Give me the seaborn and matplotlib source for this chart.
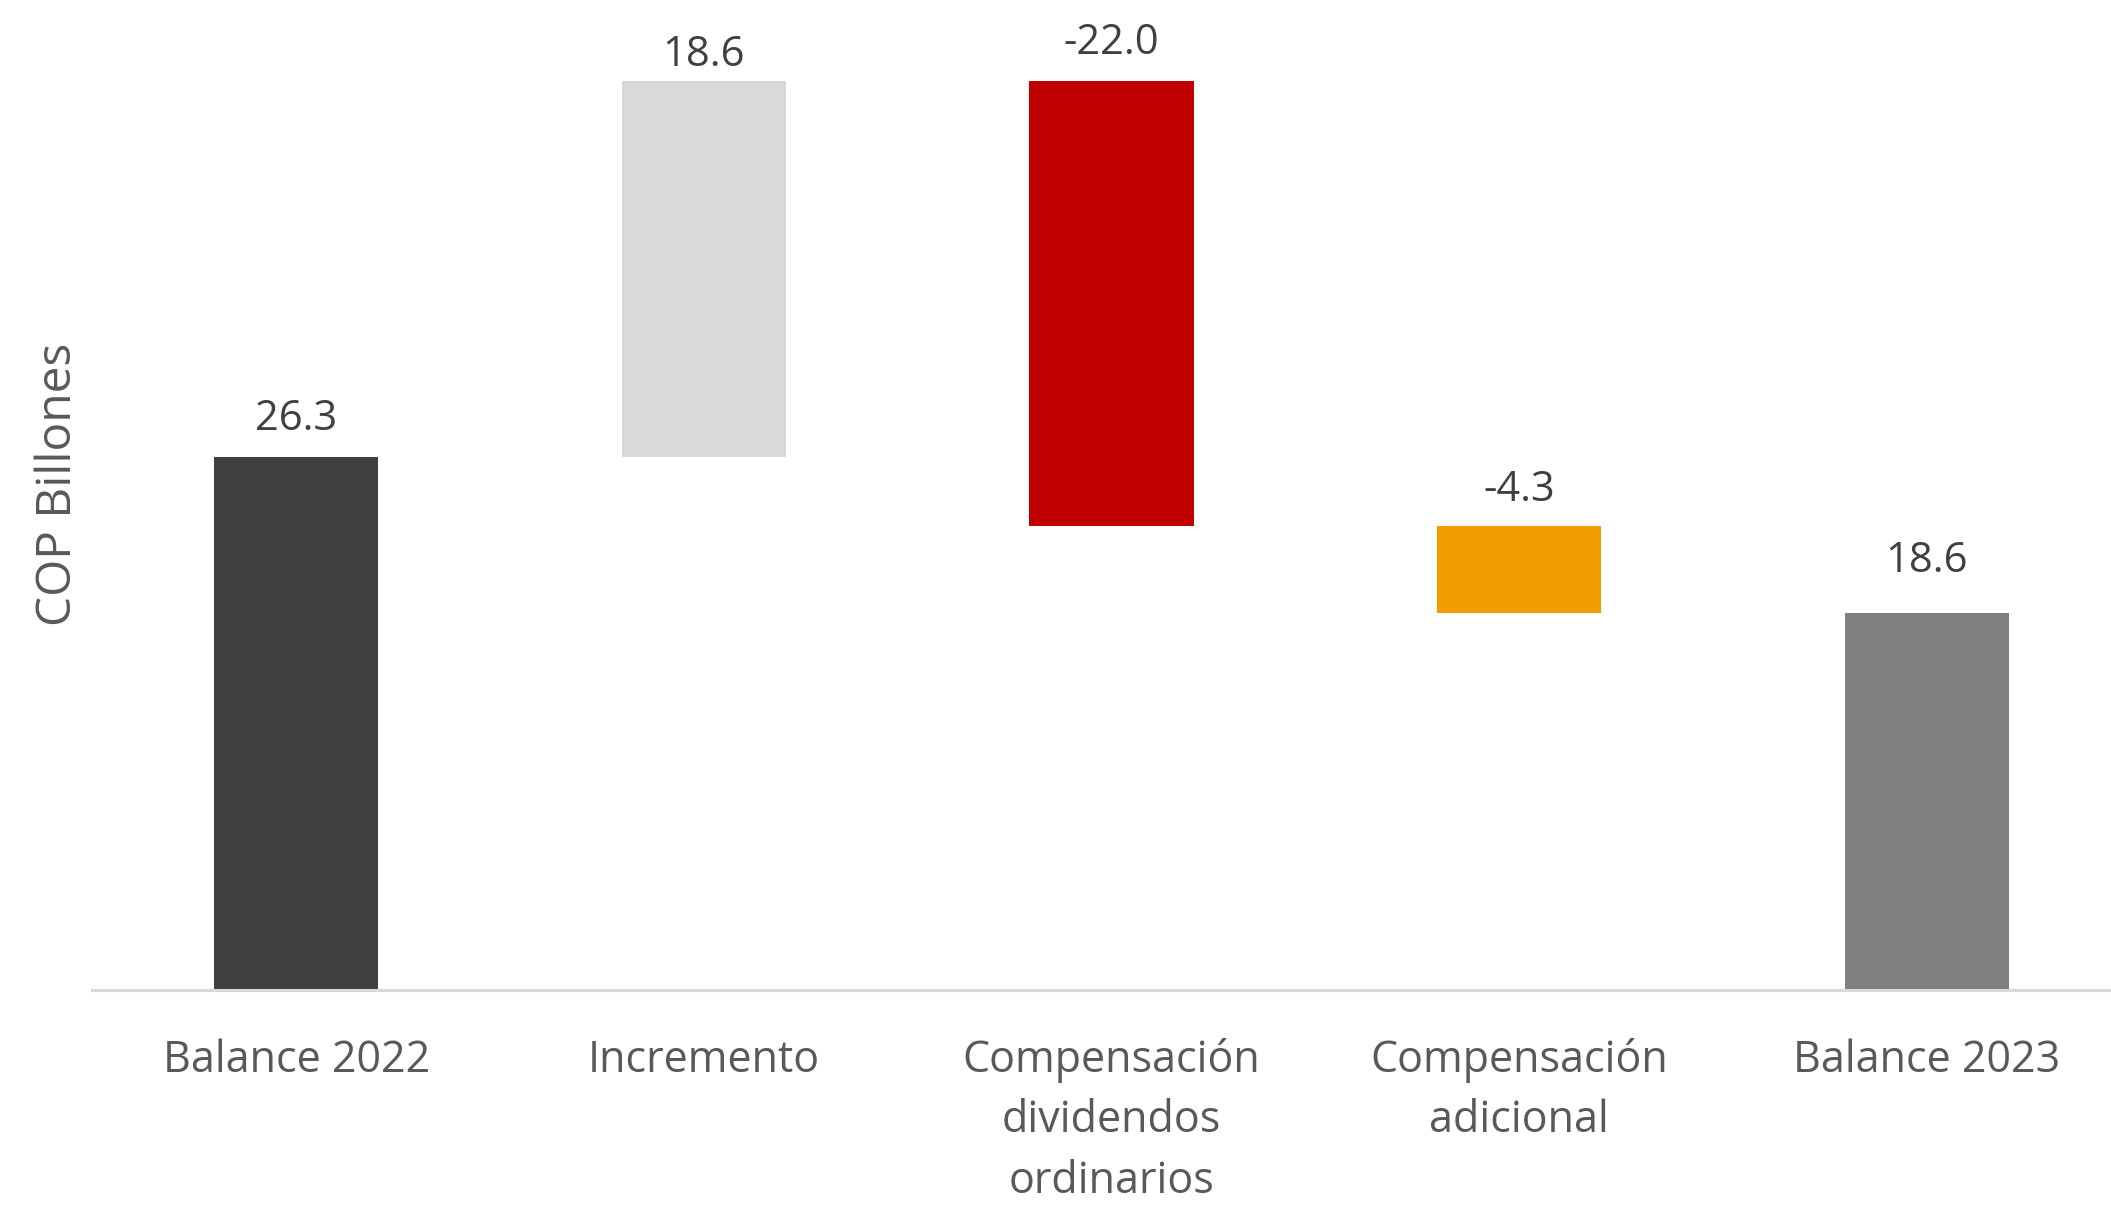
import matplotlib
matplotlib.use("Agg")
import matplotlib.pyplot as plt
import seaborn as sns
import numpy as np
import pandas as pd

# ---- data ----
categories = ["Balance 2022", "Incremento", "Compensación\ndividendos\nordinarios",
              "Compensación\nadicional", "Balance 2023"]
changes = [26.3, 18.6, -22.0, -4.3, 18.6]
is_total = [True, False, False, False, True]
bar_colors = ["#404040", "#D9D9D9", "#C00000", "#F39C00", "#808080"]
y_label = "COP Billones"

# waterfall geometry derived from the data
bottoms, heights = [], []
running = 0.0
for v, tot in zip(changes, is_total):
    if tot:
        bottoms.append(0.0)
        heights.append(v)
        running = v
    else:
        new = running + v
        bottoms.append(min(running, new))
        heights.append(abs(v))
        running = new

df = pd.DataFrame({"cat": categories, "height": heights})

sns.set_theme(style="white")
plt.rcParams["font.family"] = ["Open Sans", "DejaVu Sans"]

fig = plt.figure(figsize=(21.11, 12.06), dpi=100)
ax = fig.add_axes([91.5 / 2111, (1206 - 989.5) / 1206, 1 - 91.5 / 2111, 989.5 / 1206])

sns.barplot(data=df, x="cat", y="height", hue="cat", palette=bar_colors,
            legend=False, width=0.403, ax=ax, saturation=1, linewidth=0)

for patch, b in zip(ax.patches, bottoms):
    patch.set_y(b)

ax.set_xlim(-0.502, 4.452)
ax.set_ylim(0, 48.9)

# value labels
label_dy = [28.5, 19.5, 28.5, 26.5, 38.5]  # offsets in reference px (shrunk scale)
for i, (v, b, h) in enumerate(zip(changes, bottoms, heights)):
    ax.annotate(f"{v:.1f}", xy=(i, b + h), xytext=(0, label_dy[i] * 1.3463 * 0.72),
                textcoords="offset points", ha="center", va="center",
                fontsize=30, color="#404040")

for s in ["top", "right", "left"]:
    ax.spines[s].set_visible(False)
ax.spines["bottom"].set_color("#D9D9D9")
ax.spines["bottom"].set_linewidth(2.2)

ax.set_yticks([])
ax.set_xlabel("")
ax.tick_params(axis="x", length=0, pad=35, labelsize=31, colors="#595959")
for t in ax.get_xticklabels():
    t.set_linespacing(1.47)

ax.set_ylabel(y_label, fontsize=34.5, color="#595959", va="center")
ax.yaxis.set_label_coords(-0.0165, 0.51)

fig.savefig("out.png", dpi=100)
